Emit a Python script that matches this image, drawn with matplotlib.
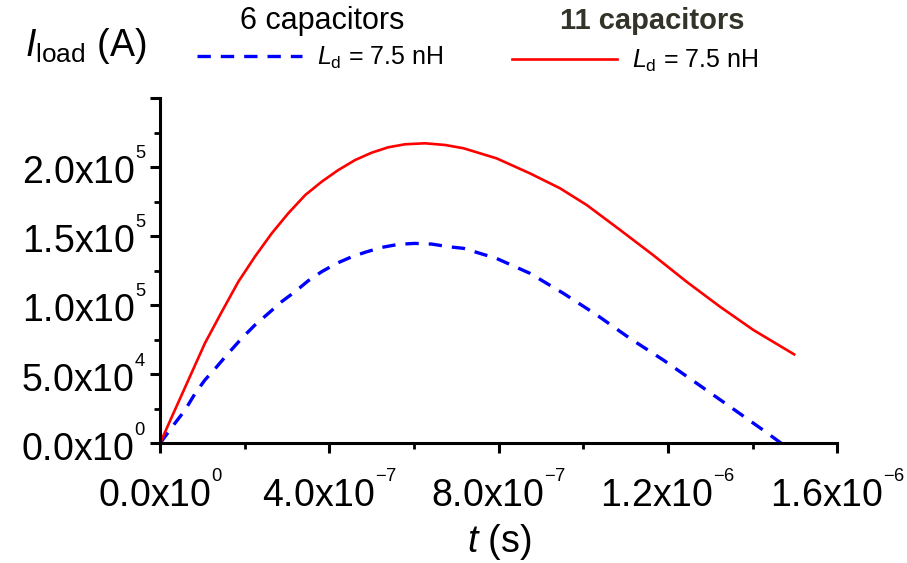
import numpy as np
import matplotlib
matplotlib.use("Agg")
import matplotlib.pyplot as plt
from matplotlib.ticker import MultipleLocator

plt.rcParams['font.family'] = ['Liberation Sans', 'DejaVu Sans']
plt.rcParams['mathtext.fontset'] = 'custom'
plt.rcParams['mathtext.rm'] = 'Liberation Sans'
plt.rcParams['mathtext.it'] = 'Liberation Sans:italic'

# ── DATA ─────────────────────────────────────────────────────────
t_11 = [0, 0.28e-7, 0.67e-7, 1.06e-7, 1.46e-7, 1.85e-7, 2.24e-7, 2.64e-7, 3.03e-7,
        3.43e-7, 3.82e-7, 4.21e-7, 4.61e-7, 5.0e-7, 5.39e-7, 5.79e-7, 6.26e-7,
        6.73e-7, 7.17e-7, 7.95e-7, 8.74e-7, 9.45e-7, 1.008e-6, 1.087e-6, 1.165e-6,
        1.244e-6, 1.323e-6, 1.402e-6, 1.498e-6]
i_11 = [0, 1.93e4, 4.59e4, 7.25e4, 9.54e4, 1.171e5, 1.352e5, 1.522e5, 1.667e5,
        1.799e5, 1.896e5, 1.98e5, 2.053e5, 2.106e5, 2.145e5, 2.167e5, 2.174e5,
        2.162e5, 2.138e5, 2.065e5, 1.956e5, 1.848e5, 1.727e5, 1.546e5, 1.364e5,
        1.171e5, 9.9e4, 8.21e4, 6.45e4]

t_6 = [0, 0.35e-7, 0.59e-7, 0.83e-7, 1.06e-7, 1.34e-7, 1.61e-7, 1.93e-7, 2.24e-7,
       2.56e-7, 2.87e-7, 3.19e-7, 3.50e-7, 3.82e-7, 4.17e-7, 4.53e-7, 4.88e-7,
       5.24e-7, 5.63e-7, 6.02e-7, 6.42e-7, 6.81e-7, 7.17e-7, 7.95e-7, 8.74e-7,
       9.53e-7, 1.032e-6, 1.11e-6, 1.189e-6, 1.268e-6, 1.347e-6, 1.425e-6, 1.468e-6]
i_6 = [0, 1.45e4, 2.41e4, 3.62e4, 4.59e4, 5.55e4, 6.52e4, 7.61e4, 8.57e4,
       9.42e4, 1.026e5, 1.099e5, 1.178e5, 1.244e5, 1.304e5, 1.352e5, 1.388e5,
       1.42e5, 1.442e5, 1.449e5, 1.444e5, 1.425e5, 1.413e5, 1.34e5, 1.232e5,
       1.087e5, 9.3e4, 7.61e4, 6.04e4, 4.35e4, 2.65e4, 9.6e3, 0]

x_ticks = [0, 4e-7, 8e-7, 1.2e-6, 1.6e-6]
x_labels = [r"0.0x10$^{{}^{0}}$", r"4.0x10$^{{}^{\mathregular{-7}}}$", r"8.0x10$^{{}^{\mathregular{-7}}}$",
            r"1.2x10$^{{}^{\mathregular{-6}}}$", r"1.6x10$^{{}^{\mathregular{-6}}}$"]
y_ticks = [0, 5e4, 1e5, 1.5e5, 2e5, 2.5e5]
y_labels = [r"0.0x10$^{{}^{0}}$", r"5.0x10$^{{}^{4}}$", r"1.0x10$^{{}^{5}}$",
            r"1.5x10$^{{}^{5}}$", r"2.0x10$^{{}^{5}}$", ""]

fig = plt.figure(figsize=(9.07, 5.63), dpi=100)
ax = fig.add_axes([0.1764, 0.2124, 0.9232 - 0.1764, 0.8254 - 0.2124])

ax.plot(t_6, i_6, color="#0000ff", lw=2.4, ls=(0, (4, 3)), label=r"$L_{\mathregular{d}}$ = 7.5 nH")
ax.plot(t_11, i_11, color="#ff0000", lw=1.9, label=r"$L_{\mathregular{d}}$ = 7.5 nH")

ax.set_xlim(0, 1.6e-6)
ax.set_ylim(0, 2.5e5)
ax.set_xticks(x_ticks, x_labels)
ax.set_yticks(y_ticks, y_labels)
ax.xaxis.set_minor_locator(MultipleLocator(2e-7))
ax.yaxis.set_minor_locator(MultipleLocator(2.5e4))

for s in ["top", "right"]:
    ax.spines[s].set_visible(False)
for s in ["left", "bottom"]:
    ax.spines[s].set_linewidth(2.2)
ax.tick_params(which="major", direction="out", length=7, width=2.2, labelsize=27, colors="black")
ax.tick_params(which="minor", direction="out", length=4.5, width=2.0)
ax.tick_params(axis="x", which="major", pad=14)
ax.tick_params(axis="y", which="major", pad=3)

ax.set_xlabel(r"$t$ (s)", fontsize=27, labelpad=5)
fig.text(0.028, 0.918, r"$I_{\mathregular{load}}$ (A)", fontsize=27, va="center", ha="left")

# series headers
fig.text(0.355, 0.962, "6 capacitors", fontsize=22, ha="center", va="center")
fig.text(0.719, 0.962, "11 capacitors", fontsize=21, ha="center", va="center",
         fontweight="bold", color="#33332a")

h, l = ax.get_legend_handles_labels()
fig.legend([h[0]], [l[0]], loc="center", bbox_to_anchor=(0.353, 0.897), frameon=False,
           fontsize=18, handlelength=4.2, handletextpad=0.6, borderpad=0)
fig.legend([h[1]], [l[1]], loc="center", bbox_to_anchor=(0.70, 0.892), frameon=False,
           fontsize=18, handlelength=4.2, handletextpad=0.6, borderpad=0)

fig.savefig("out.png", dpi=100)
